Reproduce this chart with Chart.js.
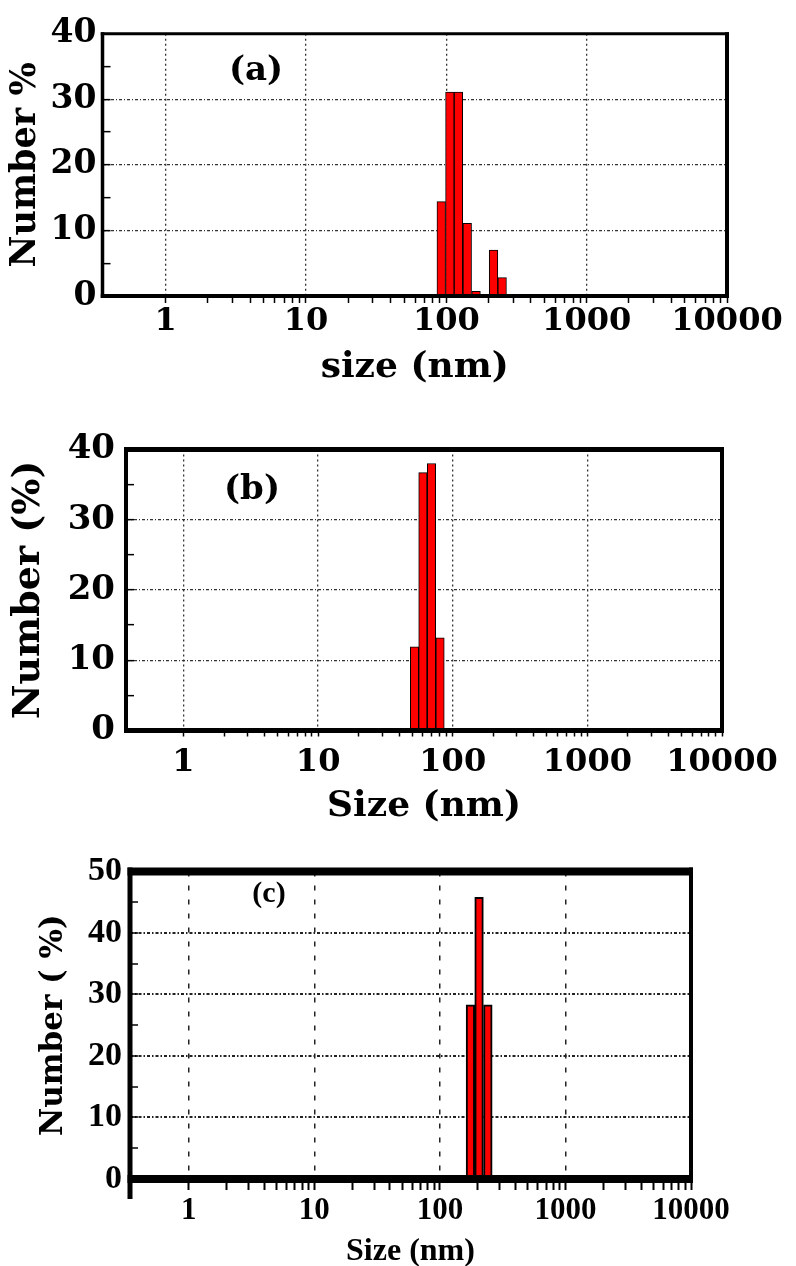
<!DOCTYPE html>
<html><head><meta charset="utf-8">
<script src="https://cdn.jsdelivr.net/npm/chart.js@4.4.0/dist/chart.umd.min.js"></script>
<style>
html,body{margin:0;padding:0;background:#fff;width:796px;height:1266px;overflow:hidden;position:relative}
canvas{position:absolute;left:0}
.lbl{position:absolute;transform:translate(-50%,-50%);line-height:1;color:#000;white-space:nowrap}
</style></head><body>
<canvas id="ca" width="796" height="405" style="top:0px"></canvas>
<canvas id="cb" width="796" height="420" style="top:410px"></canvas>
<canvas id="cc" width="796" height="431" style="top:835px"></canvas>
<div class="lbl" style="left:256px;top:68px;font:bold 34px 'DejaVu Serif'">(a)</div>
<div class="lbl" style="left:252px;top:487px;font:bold 34px 'DejaVu Serif'">(b)</div>
<div class="lbl" style="left:269px;top:892px;font:bold 30px 'Liberation Serif'">(c)</div>
<script>
// ---- data ----
const xTickLabels = [1, 10, 100, 1000, 10000];
const yTickLabelsA = [0, 10, 20, 30, 40];
const yTickLabelsB = [0, 10, 20, 30, 40];
const yTickLabelsC = [0, 10, 20, 30, 40, 50];

const sizeA = [92, 106, 122, 141, 163, 188, 217, 250];
const numberA = [14.4, 31.1, 31.1, 11.1, 0.7, 0, 7.0, 2.8];

const sizeB = [52, 60, 69.5, 80.5];
const numberB = [11.9, 36.7, 38.0, 13.2];

const sizeC = [175, 205, 241];
const numberC = [28.3, 45.8, 28.3];

// minor tick positions (1..9 per decade)
const minorTicks = [];
xTickLabels.forEach(d => { for (let m = 1; m <= 9; m++) { const v = d * m; if (v <= 10000) minorTicks.push(v); } });

function framePlugin(w) {
  return {
    id: 'frame',
    afterDatasetsDraw(chart) {
      const a = chart.chartArea, c = chart.ctx;
      c.save();
      c.strokeStyle = '#000';
      c.lineCap = 'butt';
      const line = (x1, y1, x2, y2, lw) => { c.lineWidth = lw; c.beginPath(); c.moveTo(x1, y1); c.lineTo(x2, y2); c.stroke(); };
      line(a.left - w.left / 2, a.top, a.right + w.right / 2, a.top, w.top);
      line(a.left - w.left / 2, a.bottom, a.right + w.right / 2, a.bottom, w.bottom);
      line(a.left, a.top - w.top / 2, a.left, a.bottom + w.bottom / 2 + (w.leftExt || 0), w.left);
      line(a.right, a.top - w.top / 2, a.right, a.bottom + w.bottom / 2, w.right);
      c.restore();
    }
  };
}

function build(id, p) {
  new Chart(document.getElementById(id), {
    type: 'bar',
    data: {
      datasets: [{
        data: p.sizes.map((s, i) => ({ x: s, y: p.values[i] })),
        xAxisID: 'x', yAxisID: 'y',
        backgroundColor: '#ff0000',
        borderColor: '#000',
        borderWidth: p.barBorder,
        categoryPercentage: 1.0,
        barPercentage: 1.0
      }]
    },
    options: {
      responsive: false,
      animation: false,
      layout: { padding: { left: 0, top: p.padTop, right: p.padRight, bottom: 0 } },
      plugins: { legend: { display: false }, tooltip: { enabled: false } },
      scales: {
        x: {
          type: 'logarithmic', position: 'bottom', weight: 1, offset: false,
          min: p.xMin, max: 10000, bounds: 'data',
          afterBuildTicks: s => { s.ticks = xTickLabels.map(v => ({ value: v })); },
          afterFit: s => { s.height = p.xHeight; },
          border: { display: false, dash: p.xDash },
          grid: { offset: false, color: p.gridColor, lineWidth: p.xGridWidth, drawTicks: false },
          ticks: {
            autoSkip: false, maxRotation: 0, padding: p.xTickPad, color: '#000',
            font: { family: p.xTickFamily, size: p.xTickSize, weight: 'bold' },
            callback: v => xTickLabels.includes(v) ? String(v) : ''
          },
          title: {
            display: true, text: p.xTitle, color: '#000',
            font: { family: p.xTitleFamily, size: p.xTitleSize, weight: 'bold', lineHeight: p.xTitleLH },
            padding: { top: 0, bottom: p.xTitlePad }
          }
        },
        x2: {
          type: 'logarithmic', position: 'bottom', weight: 0, axis: 'x', offset: false,
          min: p.xMin, max: 10000, bounds: 'data',
          afterBuildTicks: s => { s.ticks = minorTicks.map(v => ({ value: v })); },
          afterFit: s => { s.height = 0; },
          border: { display: false },
          grid: { offset: false, drawOnChartArea: false, drawTicks: true, tickLength: p.minorLen, tickColor: '#000', tickWidth: p.minorWidth },
          ticks: { display: false, autoSkip: false }
        },
        y: {
          type: 'linear', position: 'left',
          min: 0, max: p.yMax,
          afterFit: s => { s.width = p.yWidth; },
          border: { display: false, dash: p.yDash },
          grid: {
            color: ctx => (ctx.tick && p.yLabels.includes(ctx.tick.value)) ? p.gridColor : 'rgba(0,0,0,0)',
            lineWidth: p.yGridWidth,
            drawTicks: true, tickLength: -8, tickColor: '#000', tickWidth: 1.5
          },
          ticks: {
            stepSize: 5, autoSkip: false, padding: p.yTickPad, color: '#000',
            font: { family: p.yTickFamily, size: p.yTickSize, weight: 'bold' },
            callback: v => p.yLabels.includes(v) ? String(v) : ''
          },
          title: {
            display: true, text: p.yTitle, color: '#000',
            font: { family: p.yTitleFamily, size: p.yTitleSize, weight: 'bold' },
            padding: { top: p.yTitlePad, bottom: 0 }
          }
        }
      }
    },
    plugins: [framePlugin(p.frame)]
  });
}

build('ca', {
  sizes: sizeA, values: numberA, yMax: 40, yLabels: yTickLabelsA, xMin: 0.355,
  padTop: 30, padRight: 69, yWidth: 102.5, xHeight: 109,
  gridColor: '#333', xDash: [2, 3], yDash: [3, 2, 1, 2], xGridWidth: 1.3, yGridWidth: 1.3,
  xTickFamily: "'DejaVu Serif'", xTickSize: 32, xTickPad: 6,
  xTitle: 'size (nm)', xTitleFamily: "'DejaVu Serif'", xTitleSize: 36, xTitleLH: 1.2, xTitlePad: 16,
  yTickFamily: "'DejaVu Serif'", yTickSize: 33, yTickPad: 14,
  yTitle: 'Number %', yTitleFamily: "'DejaVu Serif'", yTitleSize: 35, yTitlePad: 5,
  minorLen: 7, minorWidth: 1.5, barBorder: 1,
  frame: { top: 3, bottom: 4, left: 3.5, right: 4 }
});

build('cb', {
  sizes: sizeB, values: numberB, yMax: 40, yLabels: yTickLabelsB, xMin: 0.374,
  padTop: 27.5, padRight: 74, yWidth: 126, xHeight: 99.5,
  gridColor: '#333', xDash: [2, 3], yDash: [3, 2, 1, 2], xGridWidth: 1.3, yGridWidth: 1.3,
  xTickFamily: "'DejaVu Serif'", xTickSize: 32, xTickPad: 13,
  xTitle: 'Size (nm)', xTitleFamily: "'DejaVu Serif'", xTitleSize: 36, xTitleLH: 1.2, xTitlePad: 1.4,
  yTickFamily: "'DejaVu Serif'", yTickSize: 34, yTickPad: 19,
  yTitle: 'Number (%)', yTitleFamily: "'DejaVu Serif'", yTitleSize: 38, yTitlePad: 6,
  minorLen: 6, minorWidth: 1.5, barBorder: 1,
  frame: { top: 5, bottom: 5, left: 4, right: 4 }
});

build('cc', {
  sizes: sizeC, values: numberC, yMax: 50, yLabels: yTickLabelsC, xMin: 0.34,
  padTop: 23, padRight: 105, yWidth: 130, xHeight: 87,
  gridColor: '#222', xDash: [5, 9], yDash: [3, 2, 1.5, 2], xGridWidth: 1.5, yGridWidth: 2,
  xTickFamily: "'Liberation Serif'", xTickSize: 31, xTickPad: 13,
  xTitle: 'Size (nm)', xTitleFamily: "'Liberation Serif'", xTitleSize: 32, xTitleLH: 0.8, xTitlePad: 1,
  yTickFamily: "'Liberation Serif'", yTickSize: 34, yTickPad: 16,
  yTitle: 'Number ( %)', yTitleFamily: "'DejaVu Serif'", yTitleSize: 31, yTitlePad: 35,
  minorLen: 11, minorWidth: 2, barBorder: 2,
  frame: { top: 8, bottom: 8, left: 5, right: 4, leftExt: 16 }
});
</script>
</body></html>
